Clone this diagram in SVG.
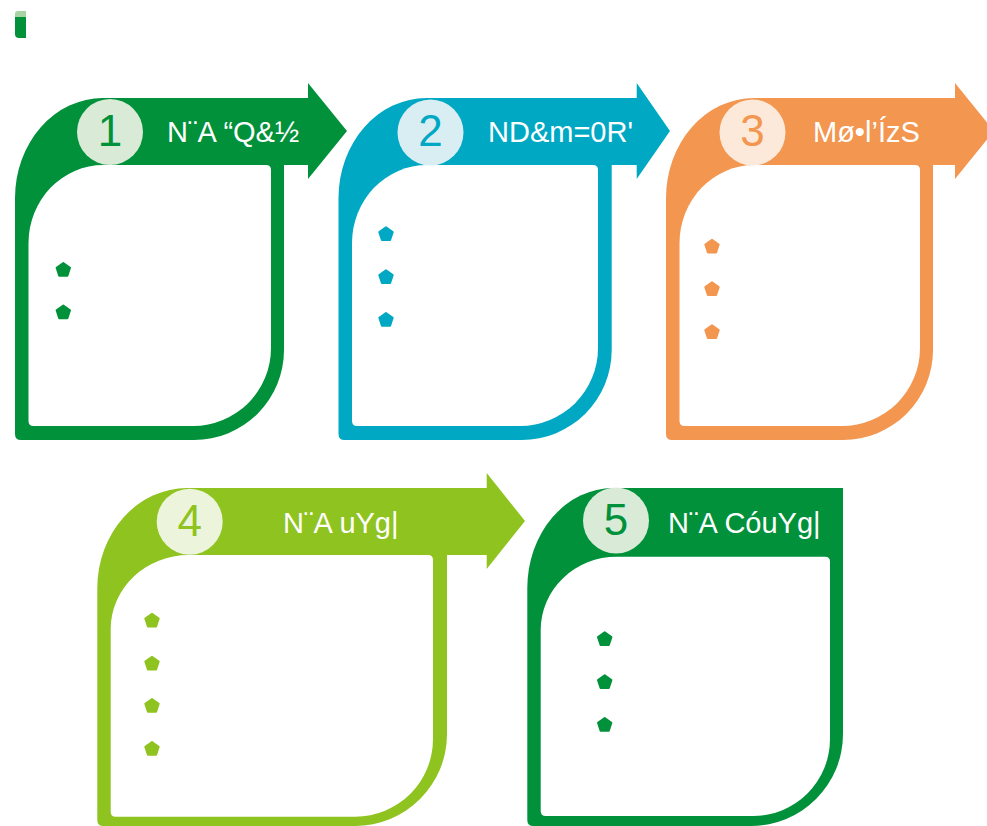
<svg xmlns="http://www.w3.org/2000/svg" width="987" height="826" viewBox="0 0 987 826">
<defs>
<style>
.t{font-family:"Liberation Sans",Arial,sans-serif;font-size:29px;fill:#ffffff}
.n{font-family:"Liberation Sans",Arial,sans-serif;font-size:44px;text-anchor:middle}
.w{fill:#ffffff}
.g{fill:#00913A}.gs{stroke:#00913A}
.b{fill:#00A8C4}.bs{stroke:#00A8C4}
.o{fill:#F29650}.os{stroke:#F29650}
.l{fill:#8FC31F}.ls{stroke:#8FC31F}
.bul{stroke-width:2;stroke-linejoin:round}
</style>
<path id="p" d="M0,-7 L6.7,-2.2 L4.1,5.7 L-4.1,5.7 L-6.7,-2.2 Z"/>
</defs>
<rect width="987" height="826" fill="#ffffff"/>
<g id="logo">
<path d="M15,17 L26,17 L26,38 L19,38 Q15,38 15,34 Z" fill="#00913A"/>
<path d="M15,17 L15,14 Q15,11 18,11 L26,11 L26,17 Z" fill="#A9D3A5"/>
</g>
<g id="card1">
<path class="g" d="M21,440 Q15,440 15,434 L15,198 A88 100 0 0 1 103,98 L308,98 L308,83 L347,131 L308,179 L308,165 L284,165 L284,350 A90 90 0 0 1 194,440 Z"/>
<path class="w" d="M28.5,421 L28.5,243 A75 78 0 0 1 103.5,165 L266,165 Q271,165 271,170 L271,348 A78 78 0 0 1 193,426 L33.5,426 Q28.5,426 28.5,421 Z"/>
<circle cx="110" cy="132" r="33" fill="#D9EAD7"/>
<text class="n" x="110" y="145.5" fill="#00913A">1</text>
<text class="t" x="167" y="142">N¨A “Q&amp;½</text>
<use href="#p" x="63.3" y="270" class="g gs bul"/>
<use href="#p" x="63.3" y="312.5" class="g gs bul"/>
</g>
<g id="card2">
<path class="b" d="M344.5,440 Q338.5,440 338.5,434 L338.5,198 A88 100 0 0 1 426.5,98 L636.7,98 L636.7,83 L670,131 L636.7,179 L636.7,165 L611.7,165 L611.7,350 A90 90 0 0 1 521.7,440 Z"/>
<path class="w" d="M352,421 L352,243 A75 78 0 0 1 427,165 L593,165 Q598,165 598,170 L598,348 A78 78 0 0 1 520,426 L357,426 Q352,426 352,421 Z"/>
<circle cx="430.5" cy="132.5" r="33" fill="#D8EEF3"/>
<text class="n" x="430.5" y="145.5" fill="#00A8C4">2</text>
<text class="t" x="488" y="142">ND&amp;m=0R'</text>
<use href="#p" x="386" y="234.3" class="b bs bul"/>
<use href="#p" x="386" y="277.3" class="b bs bul"/>
<use href="#p" x="386" y="320" class="b bs bul"/>
</g>
<g id="card3">
<path class="o" d="M672,440 Q666,440 666,434 L666,198 A88 100 0 0 1 754,98 L955,98 L955,83 L994,131 L955,179 L955,165 L933,165 L933,350 A90 90 0 0 1 843,440 Z"/>
<path class="w" d="M679.5,421 L679.5,243 A75 78 0 0 1 754.5,165 L915,165 Q920,165 920,170 L920,348 A78 78 0 0 1 842,426 L684.5,426 Q679.5,426 679.5,421 Z"/>
<circle cx="752.5" cy="132.5" r="33" fill="#FDE9DA"/>
<text class="n" x="752.5" y="145.5" fill="#F29650">3</text>
<text class="t" x="813" y="142">Mø•l’ÍzS</text>
<use href="#p" x="712" y="246.7" class="o os bul"/>
<use href="#p" x="712" y="289.3" class="o os bul"/>
<use href="#p" x="712" y="332.3" class="o os bul"/>
</g>
<g id="card4">
<path class="l" d="M103.3,826 Q97.3,826 97.3,820 L97.3,588 A90 100 0 0 1 187.3,488 L486.7,488 L486.7,473 L525,521 L486.7,569 L486.7,555 L447,555 L447,734 A92 92 0 0 1 355,826 Z"/>
<path class="w" d="M110.7,811.7 L110.7,629 A78 74 0 0 1 188.7,555 L428,555 Q433,555 433,560 L433,739 A77.7 77.7 0 0 1 355.3,816.7 L115.7,816.7 Q110.7,816.7 110.7,811.7 Z"/>
<circle cx="189.7" cy="521.7" r="33" fill="#ECF4DC"/>
<text class="n" x="189.7" y="535.5" fill="#8FC31F">4</text>
<text class="t" x="283" y="533">N¨A uYg|</text>
<use href="#p" x="152" y="620.7" class="l ls bul"/>
<use href="#p" x="152" y="663.7" class="l ls bul"/>
<use href="#p" x="152" y="706" class="l ls bul"/>
<use href="#p" x="152" y="749" class="l ls bul"/>
</g>
<g id="card5">
<path class="g" d="M533.3,826 Q527.3,826 527.3,820 L527.3,588 A86 100 0 0 1 613.3,488 L843,488 L843,734 A92 92 0 0 1 751,826 Z"/>
<path class="w" d="M540.7,811 L540.7,630 A76 73.3 0 0 1 616.7,556.7 L825,556.7 Q830,556.7 830,561.7 L830,739 A77 77 0 0 1 753,816 L545.7,816 Q540.7,816 540.7,811 Z"/>
<circle cx="616" cy="520.5" r="33" fill="#D9EAD7"/>
<text class="n" x="616" y="534.5" fill="#00913A">5</text>
<text class="t" x="668" y="533">N¨A CóuYg|</text>
<use href="#p" x="604.7" y="639.3" class="g gs bul"/>
<use href="#p" x="604.7" y="682.3" class="g gs bul"/>
<use href="#p" x="604.7" y="725" class="g gs bul"/>
</g>
<g id="connectors"/>
</svg>
